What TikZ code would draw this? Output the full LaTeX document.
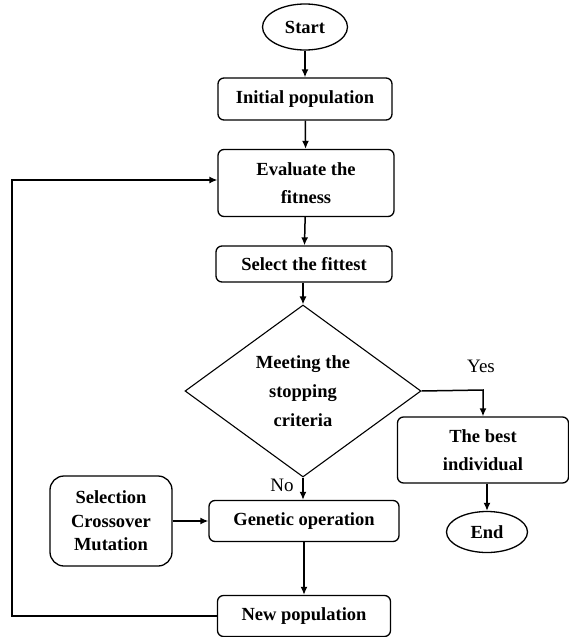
\documentclass[tikz,border=0pt]{standalone}
\usepackage{fontspec}
\setmainfont{Liberation Serif}
\usetikzlibrary{shapes.geometric,arrows.meta}
\begin{document}
\begin{tikzpicture}[x=1pt,y=-1pt,
  box/.style={draw,line width=1.3pt,rounded corners=6pt,inner sep=0pt,align=center,font=\fontsize{18.5}{28}\selectfont\bfseries},
  term/.style={draw,line width=1.3pt,ellipse,inner sep=0pt,font=\fontsize{18.5}{20}\selectfont\bfseries},
  dec/.style={draw,line width=1.1pt,diamond,inner sep=0pt,align=center,font=\fontsize{18.5}{29}\selectfont\bfseries},
  arr/.style={line width=1.5pt,-{Latex[length=8pt,width=7pt]}},
  lab/.style={font=\fontsize{19}{20}\selectfont}]
\useasboundingbox (0,0) rectangle (569,637);
\node[term,minimum width=85pt,minimum height=46pt] (start) at (305,27) {Start};
\node[box,minimum width=174pt,minimum height=42pt] (init) at (305,99) {Initial population};
\node[box,minimum width=176pt,minimum height=67pt] (eval) at (306,183) {Evaluate the\\fitness};
\node[box,minimum width=176pt,minimum height=36pt] (sel) at (304,264) {Select the fittest};
\node[dec,minimum width=236pt,minimum height=172pt] (meet) at (303,391) {Meeting the\\stopping\\criteria};
\node[box,minimum width=171pt,minimum height=66pt] (best) at (483,450) {The best\\individual};
\node[term,minimum width=81pt,minimum height=41pt] (end) at (487,532) {End};
\node[box,minimum width=190pt,minimum height=41pt] (gen) at (304,521) {Genetic operation};
\node[box,minimum width=122pt,minimum height=90pt,rounded corners=14pt,font=\fontsize{18.5}{23.5}\selectfont\bfseries] (ops) at (111,521) {Selection\\Crossover\\Mutation};
\node[box,minimum width=173pt,minimum height=41pt] (newp) at (304,616) {New population};
\coordinate (yc) at (483,390);
\coordinate (la) at (12,616);
\coordinate (lb) at (12,180);
\draw[arr] (start) -- (init);
\draw[arr] (init) -- (eval);
\draw[arr] (eval) -- (sel);
\draw[arr] (sel.south -| meet.north) -- (meet.north);
\draw[arr] (meet.east) -- (yc) -- (best.north -| yc);
\draw[arr] (best.south -| end.north) -- (end.north);
\draw[arr] (meet.south) -- (gen.north -| meet.south);
\draw[arr] (ops) -- (gen);
\draw[arr] (gen) -- (newp);
\draw[line width=1.3pt,-{Latex[length=8pt,width=7pt]}] (newp.west) -- (la) -- (lb) -- (lb -| eval.west);
\node[lab] (yes) at (481,366) {Yes};
\node[lab] (no) at (282,485) {No};
\end{tikzpicture}
\end{document}
